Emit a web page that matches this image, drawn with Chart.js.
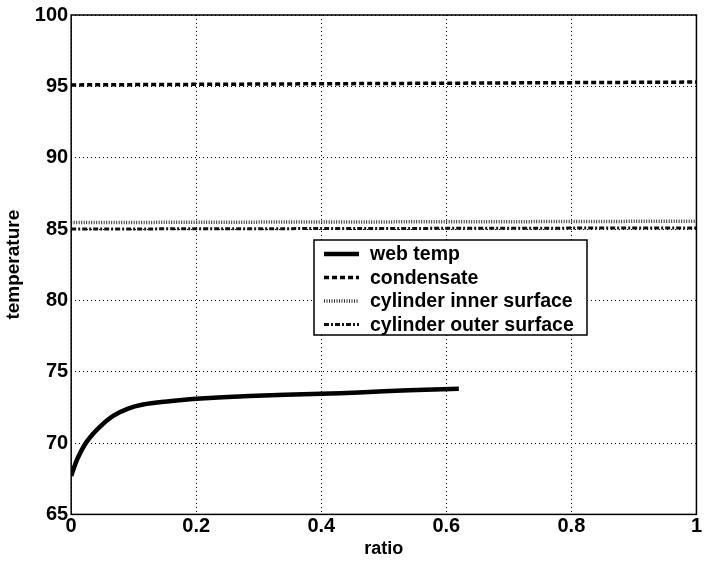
<!DOCTYPE html>
<html>
<head>
<meta charset="utf-8">
<script src="https://cdn.jsdelivr.net/npm/chart.js@4/dist/chart.umd.min.js"></script>
<style>
  body { margin: 0; background: #fff; }
  #wrap { width: 704px; height: 562px; }
</style>
</head>
<body>
<div id="wrap"><canvas id="mycanvas" width="704" height="562"></canvas></div>
<script>
// values
var webRatio = [0, 0.01, 0.025, 0.045, 0.067, 0.09, 0.115, 0.15, 0.2, 0.285, 0.4, 0.46, 0.54, 0.62];
var webTemp  = [67.7, 68.9, 70.1, 71.1, 71.9, 72.4, 72.7, 72.9, 73.1, 73.3, 73.45, 73.55, 73.7, 73.8];
var flatRatio = [0, 0.25, 0.5, 0.75, 1];
var condensate = [95.1, 95.15, 95.2, 95.25, 95.3];
var innerSurface = [85.45, 85.48, 85.5, 85.52, 85.55];
var outerSurface = [85.0, 85.02, 85.04, 85.06, 85.08];
var seriesNames = ['web temp', 'condensate', 'cylinder inner surface', 'cylinder outer surface'];
var xTicks = [0, 0.2, 0.4, 0.6, 0.8, 1];
var yTicks = [65, 70, 75, 80, 85, 90, 95, 100];

function pts(xs, ys) {
    var out = [];
    for (var i in xs) out.push({x: xs[i], y: ys[i]});
    return out;
}

var fontFam = '"Liberation Sans", Arial, sans-serif';

// box round the plot + legend inside the axes
var frameAndLegend = {
    id: 'frameAndLegend',
    afterDraw: function(chart) {
        var ctx = chart.ctx, a = chart.chartArea;
        ctx.save();
        ctx.strokeStyle = '#000';
        ctx.lineWidth = 1.5;
        ctx.setLineDash([]);
        ctx.strokeRect(a.left, a.top, a.right - a.left, a.bottom - a.top);

        var bx = 314, by = 240, bw = 273, bh = 95;
        ctx.fillStyle = '#fff';
        ctx.fillRect(bx, by, bw, bh);
        ctx.lineWidth = 1.5;
        ctx.strokeRect(bx, by, bw, bh);
        ctx.font = 'bold 19.5px ' + fontFam;
        ctx.textBaseline = 'middle';
        chart.data.datasets.forEach(function(ds, i) {
            var yy = by + 14 + i * 23.5;
            ctx.strokeStyle = ds.borderColor;
            ctx.lineWidth = ds.borderWidth;
            ctx.setLineDash(ds.borderDash || []);
            ctx.beginPath();
            ctx.moveTo(bx + 10, yy);
            ctx.lineTo(bx + 45, yy);
            ctx.stroke();
            ctx.setLineDash([]);
            ctx.fillStyle = '#000';
            ctx.fillText(ds.label, bx + 56, yy + 1);
        });
        ctx.restore();
    }
};

var config = {
    type: 'line',
    data: {
        datasets: [
            { label: seriesNames[0], data: pts(webRatio, webTemp), borderColor: '#000', borderWidth: 4.5, pointRadius: 0, tension: 0.3 },
            { label: seriesNames[1], data: pts(flatRatio, condensate), borderColor: '#000', borderWidth: 3.5, borderDash: [5, 3], pointRadius: 0 },
            { label: seriesNames[2], data: pts(flatRatio, innerSurface), borderColor: '#333', borderWidth: 3.5, borderDash: [1, 1.5], pointRadius: 0 },
            { label: seriesNames[3], data: pts(flatRatio, outerSurface), borderColor: '#111', borderWidth: 3, borderDash: [5, 2, 2, 2], pointRadius: 0 }
        ]
    },
    options: {
        responsive: false,
        animation: false,
        layout: { padding: { top: 15, right: 1, left: 2, bottom: 0 } },
        plugins: { legend: { display: false }, tooltip: { enabled: false } },
        scales: {
            x: {
                type: 'linear', min: 0, max: 1,
                afterBuildTicks: function(s) { s.ticks = xTicks.map(function(v) { return {value: v}; }); },
                ticks: { color: '#000', font: { family: fontFam, size: 20, weight: 'bold', lineHeight: 1 }, padding: 2, maxRotation: 0,
                         callback: function(v) { return String(v); } },
                grid: { color: '#000', lineWidth: 1, tickLength: 0 },
                border: { display: false, dash: [1, 3] },
                title: { display: true, text: 'ratio', color: '#000', font: { family: fontFam, size: 18, weight: 'bold' }, padding: { top: 0, bottom: 2 } }
            },
            y: {
                type: 'linear', min: 65, max: 100,
                afterBuildTicks: function(s) { s.ticks = yTicks.map(function(v) { return {value: v}; }); },
                ticks: { color: '#000', font: { family: fontFam, size: 20, weight: 'bold' }, padding: 3 },
                grid: { color: '#000', lineWidth: 1, tickLength: 0 },
                border: { display: false, dash: [1, 3] },
                title: { display: true, text: 'temperature', color: '#000', font: { family: fontFam, size: 19, weight: 'bold' }, padding: { top: 0, bottom: 7 } }
            }
        }
    },
    plugins: [frameAndLegend]
};

var ctx = document.getElementById("mycanvas").getContext("2d");
var tempChart = new Chart(ctx, config);
</script>
</body>
</html>
